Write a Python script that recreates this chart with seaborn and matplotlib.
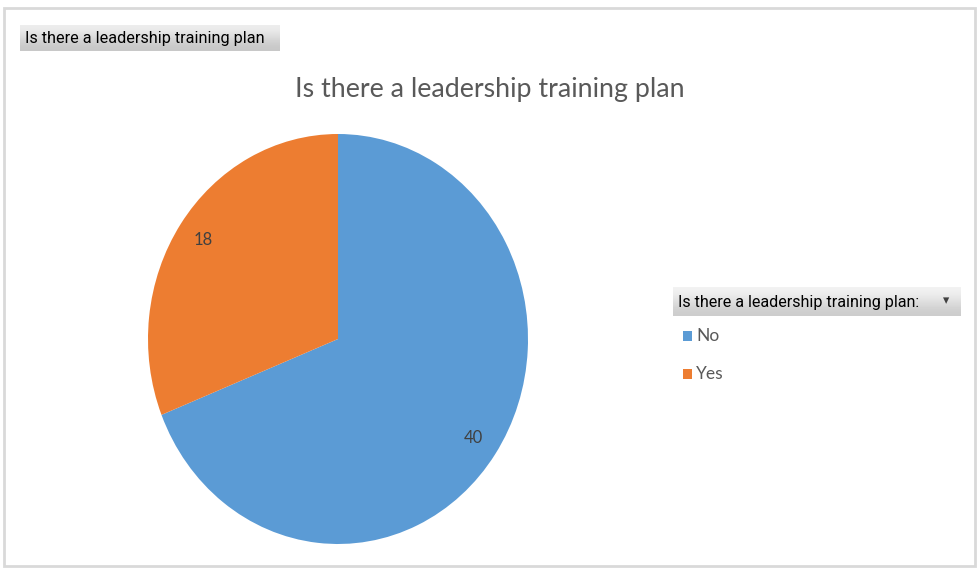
import matplotlib
matplotlib.use("Agg")
import matplotlib.pyplot as plt
import seaborn as sns
from matplotlib.patches import Rectangle

# data
answers = ["No", "Yes"]
counts = [40, 18]
colors = ["#5B9BD5", "#ED7D31"]
chart_title = "Is there a leadership training plan"
legend_title = "Is there a leadership training plan:"

sns.set_theme(style="white")
plt.rcParams["font.family"] = ["Lato", "DejaVu Sans"]

W, H = 978, 568
fig = plt.figure(figsize=(W / 100, H / 100), dpi=100)
fig.patch.set_facecolor("white")


def fx(px):
    return px / W


def fy(py):
    return 1 - py / H


# outer frame
fig.patches.append(Rectangle((fx(4), fy(566)), fx(971), 558 / H, transform=fig.transFigure,
                             fill=False, edgecolor="#D9D9D9", linewidth=2))

# pie (the picture is slightly stretched vertically)
ax = fig.add_axes([fx(148), fy(544), fx(380), 410 / H])
wedges, texts = ax.pie(counts, colors=colors, startangle=90, counterclock=False,
                       labels=[str(c) for c in counts], labeldistance=0.86,
                       wedgeprops=dict(linewidth=0),
                       textprops=dict(color="#404040", fontsize=12))
for t in texts:
    t.set_horizontalalignment("center")
    t.set_verticalalignment("center")
ax.set_aspect("auto")
ax.set_xlim(-1, 1)
ax.set_ylim(-1, 1)
ax.axis("off")

# title
fig.text(fx(490), fy(90), chart_title, ha="center", va="center",
         fontsize=19.3, color="#595959")

# field button top-left
btn = fig.add_axes([fx(20), fy(51), fx(260), 26 / H])
btn.imshow([[0.93], [0.85], [0.78]], cmap="gray", vmin=0, vmax=1, aspect="auto",
           extent=(0, 1, 0, 1), interpolation="bicubic")
btn.axis("off")
fig.text(fx(25), fy(38), chart_title, ha="left", va="center", fontsize=11.7,
         color="black", family=["Roboto", "DejaVu Sans"])

# legend header button
lbtn = fig.add_axes([fx(673), fy(316), fx(288), 29 / H])
lbtn.imshow([[0.95], [0.88], [0.80]], cmap="gray", vmin=0, vmax=1, aspect="auto",
            extent=(0, 1, 0, 1), interpolation="bicubic")
lbtn.axis("off")
fig.text(fx(678), fy(302), legend_title, ha="left", va="center", fontsize=11.6,
         color="black", family=["Roboto", "DejaVu Sans"])
fig.text(fx(946), fy(301), "\u25BE", ha="center", va="center", fontsize=9,
         color="#404040", family=["DejaVu Sans"])

# legend entries
for i, (name, col) in enumerate(zip(answers, colors)):
    y = 336 + i * 38
    fig.patches.append(Rectangle((fx(683), fy(y + 5)), fx(9), 10 / H,
                                 transform=fig.transFigure, facecolor=col, edgecolor="none"))
    fig.text(fx(696), fy(y), name, ha="left", va="center", fontsize=12.5, color="#595959")

fig.savefig("out.png", dpi=100)
